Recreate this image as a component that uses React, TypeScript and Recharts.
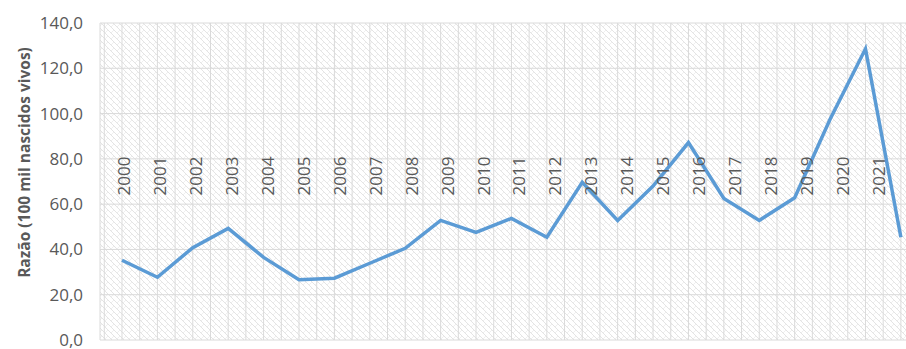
import React from 'react';
import { LineChart, Line, XAxis, YAxis, CartesianGrid } from 'recharts';

const years = [2000, 2001, 2002, 2003, 2004, 2005, 2006, 2007, 2008, 2009, 2010, 2011, 2012, 2013, 2014, 2015, 2016, 2017, 2018, 2019, 2020, 2021, 2022];
const ratio = [35.2, 27.7, 40.8, 49.3, 36.5, 26.6, 27.3, 33.9, 40.5, 52.8, 47.5, 53.7, 45.4, 69.6, 52.8, 68.0, 87.2, 62.5, 52.8, 62.8, 97.5, 128.6, 45.4];
const yearLabels = [2000, 2001, 2002, 2003, 2004, 2005, 2006, 2007, 2008, 2009, 2010, 2011, 2012, 2013, 2014, 2015, 2016, 2017, 2018, 2019, 2020, 2021];
const yTicks = [0, 20, 40, 60, 80, 100, 120, 140];
const gridTicks = [1999.5, 2000, 2000.5, 2001, 2001.5, 2002, 2002.5, 2003, 2003.5, 2004, 2004.5, 2005, 2005.5, 2006, 2006.5, 2007, 2007.5, 2008, 2008.5, 2009, 2009.5, 2010, 2010.5, 2011, 2011.5, 2012, 2012.5, 2013, 2013.5, 2014, 2014.5, 2015, 2015.5, 2016, 2016.5, 2017, 2017.5, 2018, 2018.5, 2019, 2019.5, 2020, 2020.5, 2021, 2021.5, 2022, 2022.5];

const data = years.map((y, i) => ({ year: y, value: ratio[i] }));

const FONT = '"Open Sans", "Noto Sans", sans-serif';

const EmptyTick = () => <g />;

const YearTick = (props: any) => {
  const { x, payload } = props;
  return (
    <text
      transform={`translate(${x},176) rotate(-90)`}
      textAnchor="middle"
      dominantBaseline="central"
      fontFamily={FONT}
      fontSize={17}
      fill="#595959"
    >
      {payload.value}
    </text>
  );
};

const YLabel = (props: any) => {
  const { viewBox } = props;
  const cx = 24;
  const cy = viewBox.y + viewBox.height / 2 - 19;
  return (
    <text
      transform={`translate(${cx},${cy}) rotate(-90)`}
      textAnchor="middle"
      dominantBaseline="central"
      fontFamily={FONT}
      fontSize={15.5}
      fontWeight="bold"
      fill="#595959"
    >
      Razão (100 mil nascidos vivos)
    </text>
  );
};

export default function App() {
  return (
    <div style={{ position: 'absolute', left: 0, top: 0, width: 906, height: 349, overflow: 'hidden', background: '#fff' }}>
      <LineChart width={930} height={349} data={data} margin={{ top: 23, right: 10, bottom: 7, left: 0 }}>
        <defs>
          <pattern id="weave" width="6" height="6" patternUnits="userSpaceOnUse">
            <rect width="6" height="6" fill="#ffffff" />
            <path d="M0,0 L6,6" stroke="#e4e4e4" strokeWidth={1} />
            <path d="M6,0 L3,3" stroke="#efefef" strokeWidth={1} />
          </pattern>
        </defs>
        <CartesianGrid stroke="#dadada" strokeWidth={1} fill="url(#weave)" xAxisId="main" />
        <XAxis
          xAxisId="main"
          dataKey="year"
          type="number"
          domain={[1999.379, 2022.54]}
          ticks={gridTicks}
          allowDataOverflow
          interval={0}
          tick={EmptyTick}
          tickLine={false}
          axisLine={false}
          height={1}
        />
        <XAxis
          xAxisId="lbl"
          type="number"
          dataKey="year"
          domain={[1999.361, 2022.139]}
          ticks={yearLabels}
          allowDataOverflow
          interval={0}
          tick={(p: any) => <YearTick {...p} />}
          tickLine={false}
          axisLine={false}
          height={1}
        />
        <YAxis
          domain={[0, 140]}
          ticks={yTicks}
          interval={0}
          width={100}
          tickLine={false}
          axisLine={false}
          tickMargin={11}
          tickFormatter={(v: number) => v.toFixed(1).replace('.', ',')}
          tick={{ fontFamily: FONT, fontSize: 17, fill: '#595959' }}
          label={<YLabel />}
        />
        <Line
          xAxisId="main"
          type="linear"
          dataKey="value"
          stroke="#5B9BD5"
          strokeWidth={3.5}
          dot={false}
          isAnimationActive={false}
        />
      </LineChart>
    </div>
  );
}
